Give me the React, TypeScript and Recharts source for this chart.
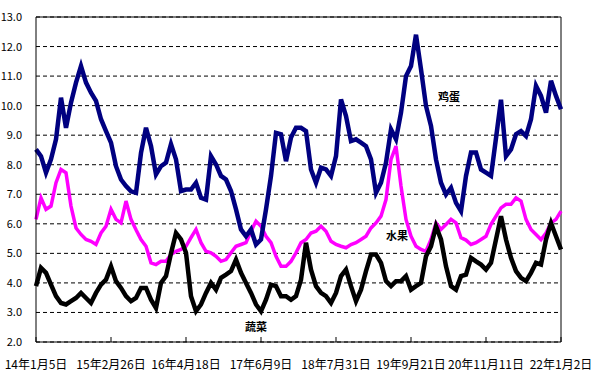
import { LineChart, Line, XAxis, YAxis, CartesianGrid, ReferenceLine } from 'recharts'

// one reading every ~21 days, 15 readings between date labels
const dateLabels = ['14年1月5日', '15年2月26日', '16年4月18日', '17年6月9日', '18年7月31日', '19年9月21日', '20年11月11日', '22年1月2日']
const STEP = 15

const egg = [
  8.52, 8.29, 7.73, 8.18, 8.86, 10.27, 9.25, 10.1, 10.78, 11.34, 10.78, 10.44, 10.16, 9.54, 9.14, 8.75, 7.95, 7.5, 7.28, 7.1, 7.05, 8.4, 9.25, 8.63, 7.67, 7.95, 8.07,
  8.7, 8.18, 7.11, 7.16, 7.16, 7.39, 6.88, 6.82, 8.29, 8.01, 7.62, 7.5, 7.11, 6.49, 5.81, 5.58, 5.81, 5.3, 5.47, 6.49, 7.62, 9.08, 9.03, 8.12, 8.92, 9.25, 9.25,
  9.14, 7.84, 7.39, 7.9, 7.84, 7.62, 8.29, 10.21, 9.65, 8.8, 8.86, 8.75, 8.63, 8.18, 7.05, 7.39, 8.07, 9.2, 8.86, 9.76, 11.0, 11.34, 12.4, 11.23, 9.99, 9.31, 8.18,
  7.39, 6.99, 7.22, 6.71, 6.43, 7.62, 8.41, 8.41, 7.84, 7.73, 7.62, 8.9, 10.2, 8.29, 8.52, 9.03, 9.14, 8.97, 9.54, 10.67, 10.33, 9.76, 10.84, 10.33, 9.88,
]

const fruit = [
  6.15, 6.88, 6.49, 6.6, 7.39, 7.84, 7.73, 6.6, 5.86, 5.64, 5.47, 5.41, 5.3, 5.69, 5.92, 6.49, 6.15, 6.03, 6.77, 6.15, 5.8, 5.47, 5.24, 4.68, 4.62, 4.73, 4.73,
  4.96, 5.07, 5.13, 5.24, 5.53, 5.81, 5.36, 5.07, 5.02, 4.9, 4.73, 4.79, 5.02, 5.24, 5.3, 5.36, 5.75, 6.09, 5.92, 5.58, 5.36, 4.9, 4.56, 4.56, 4.73, 5.02, 5.36,
  5.47, 5.69, 5.75, 5.92, 5.75, 5.41, 5.3, 5.24, 5.19, 5.3, 5.36, 5.47, 5.58, 5.86, 6.03, 6.26, 6.82, 8.18, 8.63, 7.28, 6.15, 5.58, 5.24, 5.13, 5.07, 5.47, 6.03,
  5.81, 5.98, 6.15, 6.03, 5.53, 5.45, 5.3, 5.36, 5.47, 5.58, 5.98, 6.26, 6.54, 6.66, 6.66, 6.88, 6.77, 6.15, 5.81, 5.64, 5.47, 5.69, 6.03, 6.15, 6.43,
]

const veg = [
  3.89, 4.51, 4.34, 3.94, 3.55, 3.32, 3.27, 3.38, 3.49, 3.66, 3.49, 3.32, 3.66, 3.94, 4.11, 4.56, 4.06, 3.83, 3.55, 3.38, 3.49, 3.83, 3.83, 3.43, 3.15, 4.0, 4.23,
  5.0, 5.69, 5.47, 5.02, 3.55, 3.04, 3.27, 3.66, 4.0, 3.77, 4.17, 4.28, 4.4, 4.79, 4.34, 4.0, 3.66, 3.27, 3.04, 3.43, 3.94, 3.89, 3.55, 3.55, 3.43, 3.55, 4.11,
  5.36, 4.45, 3.89, 3.66, 3.55, 3.32, 3.66, 4.23, 4.45, 3.89, 3.38, 3.77, 4.4, 4.96, 4.96, 4.68, 4.06, 3.89, 4.06, 4.06, 4.23, 3.77, 3.89, 4.0, 4.9, 5.24, 5.92,
  5.47, 4.56, 3.89, 3.77, 4.23, 4.28, 4.85, 4.73, 4.62, 4.45, 4.68, 5.47, 6.26, 5.47, 4.85, 4.4, 4.17, 4.06, 4.34, 4.68, 4.62, 5.47, 6.03, 5.58, 5.13,
]

const Y_MIN = 2
const Y_MAX = 13
const yTicks = [2, 3, 4, 5, 6, 7, 8, 9, 10, 11, 12, 13]

const rows = egg.map((v, i) => ({ i, egg: v, fruit: fruit[i], veg: veg[i] }))
const xTicks = dateLabels.map((_, k) => k * STEP)
const LAST = (dateLabels.length - 1) * STEP

const NARROW = "'Liberation Sans Narrow', 'Noto Sans CJK SC', sans-serif"

const DateTick = ({ x, y, payload }: any) => {
  const label = dateLabels[Math.round(payload.value / STEP)]
  return (
    <g>
      <line x1={x} y1={y} x2={x} y2={y - 5} stroke="#000" />
      <text x={x} y={y + 27} textAnchor="middle" fontSize={12} fontFamily={NARROW} fill="#000">
        {label}
      </text>
    </g>
  )
}

const ValueTick = ({ x, y, payload }: any) => (
  <text x={x} y={y} dy={4} textAnchor="end" fontSize={11} fontFamily={NARROW} fill="#000">
    {Number(payload.value).toFixed(1)}
  </text>
)

const seriesLabel = (left: number, top: number): React.CSSProperties => ({
  position: 'absolute',
  left,
  top,
  fontSize: 11,
  fontWeight: 700,
  fontFamily: "'Noto Sans CJK SC', sans-serif",
  color: '#000',
  lineHeight: '12px',
  whiteSpace: 'nowrap',
})

export default function App() {
  return (
    <div style={{ position: 'absolute', left: 0, top: 0, width: 612, height: 382, background: '#fff' }}>
      <LineChart width={612} height={382} data={rows} margin={{ top: 17, right: 51, bottom: 10, left: 0 }}>
        <CartesianGrid horizontal vertical={false} stroke="#000" strokeDasharray="4 3" />
        <XAxis
          dataKey="i"
          type="number"
          domain={[0, LAST]}
          ticks={xTicks}
          interval={0}
          height={30}
          tickSize={0}
          tickMargin={0}
          axisLine={{ stroke: '#000' }}
          tickLine={false}
          tick={<DateTick />}
        />
        <YAxis
          domain={[Y_MIN, Y_MAX]}
          ticks={yTicks}
          interval={0}
          width={36}
          tickSize={0}
          tickMargin={14}
          tickLine={false}
          axisLine={{ stroke: '#000' }}
          tick={<ValueTick />}
        />
        <ReferenceLine y={Y_MAX} stroke="#000" />
        <ReferenceLine x={LAST} stroke="#000" />
        <Line dataKey="fruit" stroke="#ff00ff" strokeWidth={3.5} dot={false} isAnimationActive={false} />
        <Line dataKey="egg" stroke="#000080" strokeWidth={4.5} dot={false} isAnimationActive={false} />
        <Line dataKey="veg" stroke="#000000" strokeWidth={4.5} dot={false} isAnimationActive={false} />
      </LineChart>
      <div style={seriesLabel(438, 90)}>鸡蛋</div>
      <div style={seriesLabel(386, 229)}>水果</div>
      <div style={seriesLabel(245, 320)}>蔬菜</div>
    </div>
  )
}
